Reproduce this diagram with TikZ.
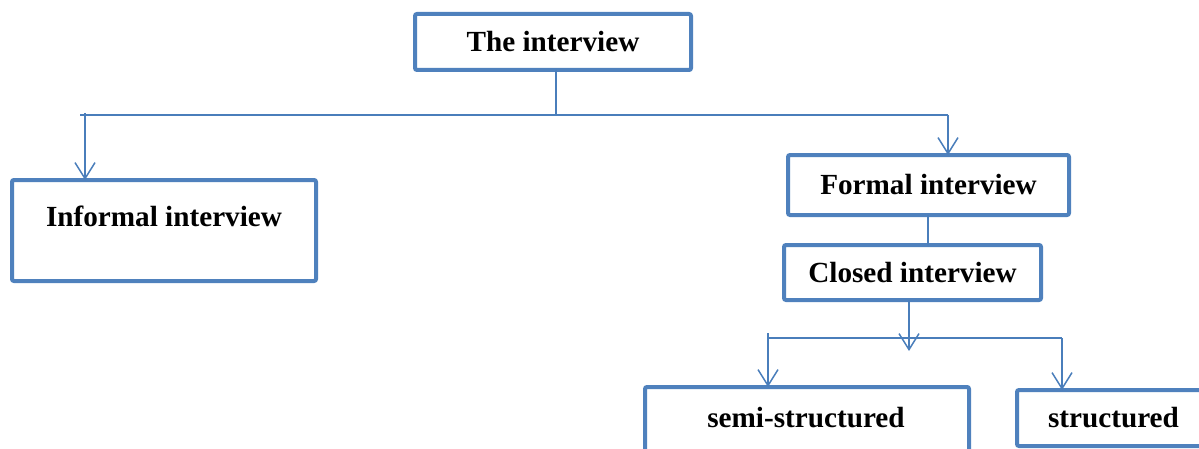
\documentclass[tikz,border=0pt]{standalone}
\usepackage{fontspec}
\setmainfont{Liberation Serif}
\usetikzlibrary{arrows.meta}
\definecolor{boxblue}{RGB}{79,129,189}
\definecolor{lineblue}{RGB}{74,126,187}
\tikzset{
  box/.style={draw=boxblue, line width=2pt, rounded corners=1pt, fill=white,
    inner sep=0pt, outer sep=0pt, font=\fontsize{14.6}{17}\selectfont\bfseries},
  lbl/.style={inner sep=0pt, font=\fontsize{14.6}{17}\selectfont\bfseries},
  conn/.style={draw=lineblue, line width=0.75pt},
  arr/.style={conn, -{Straight Barb[length=8pt,width=10pt,line width=0.75pt]}}
}
\begin{document}
\begin{tikzpicture}[x=0.5pt,y=-0.5pt]
\useasboundingbox (0,0) rectangle (1199,449);
\clip (0,0) rectangle (1199,449);
% boxes
\node[box, minimum width=138pt, minimum height=28pt] (top) at (553,42) {The interview};
\node[box, minimum width=152pt, minimum height=50.5pt] (informal) at (164,230.5) {};
\node[lbl] (informalt) at (164,216) {Informal interview};
\node[box, minimum width=140.5pt, minimum height=30pt] (formal) at (928.5,185) {Formal interview};
\node[box, minimum width=128.5pt, minimum height=27.5pt] (closed) at (912.5,272.5) {Closed interview};
\node[box, minimum width=162pt, minimum height=46.5pt] (semi) at (807,433.5) {};
\node[lbl] (semit) at (806,418) {semi-structured};
\node[box, minimum width=96.5pt, minimum height=28pt] (struct) at (1113.5,418) {structured};
% first level connectors
\coordinate (hub) at (556,115);
\coordinate (hl) at (80,115);
\coordinate (hlstub) at (85,113);
\coordinate (hr) at (948,115);
\draw[conn] (top.south -| hub) -- (hub);
\draw[conn] (hl) -- (hr);
\draw[arr] (hlstub) -- (hlstub |- informal.north);
\draw[arr] (hr) -- (hr |- formal.north);
% formal to closed
\coordinate (fc) at (928,215);
\draw[conn] (fc) -- (fc |- closed.north);
% second level
\coordinate (cd) at (909,300);
\coordinate (cdtip) at (909,351);
\coordinate (sl) at (768,338);
\coordinate (slstub) at (768,333);
\coordinate (sr) at (1062,338);
\draw[arr] (cd) -- (cdtip);
\draw[conn] (sl) -- (sr);
\draw[arr] (slstub) -- (slstub |- semi.north);
\draw[arr] (sr) -- (sr |- struct.north);
\end{tikzpicture}
\end{document}
